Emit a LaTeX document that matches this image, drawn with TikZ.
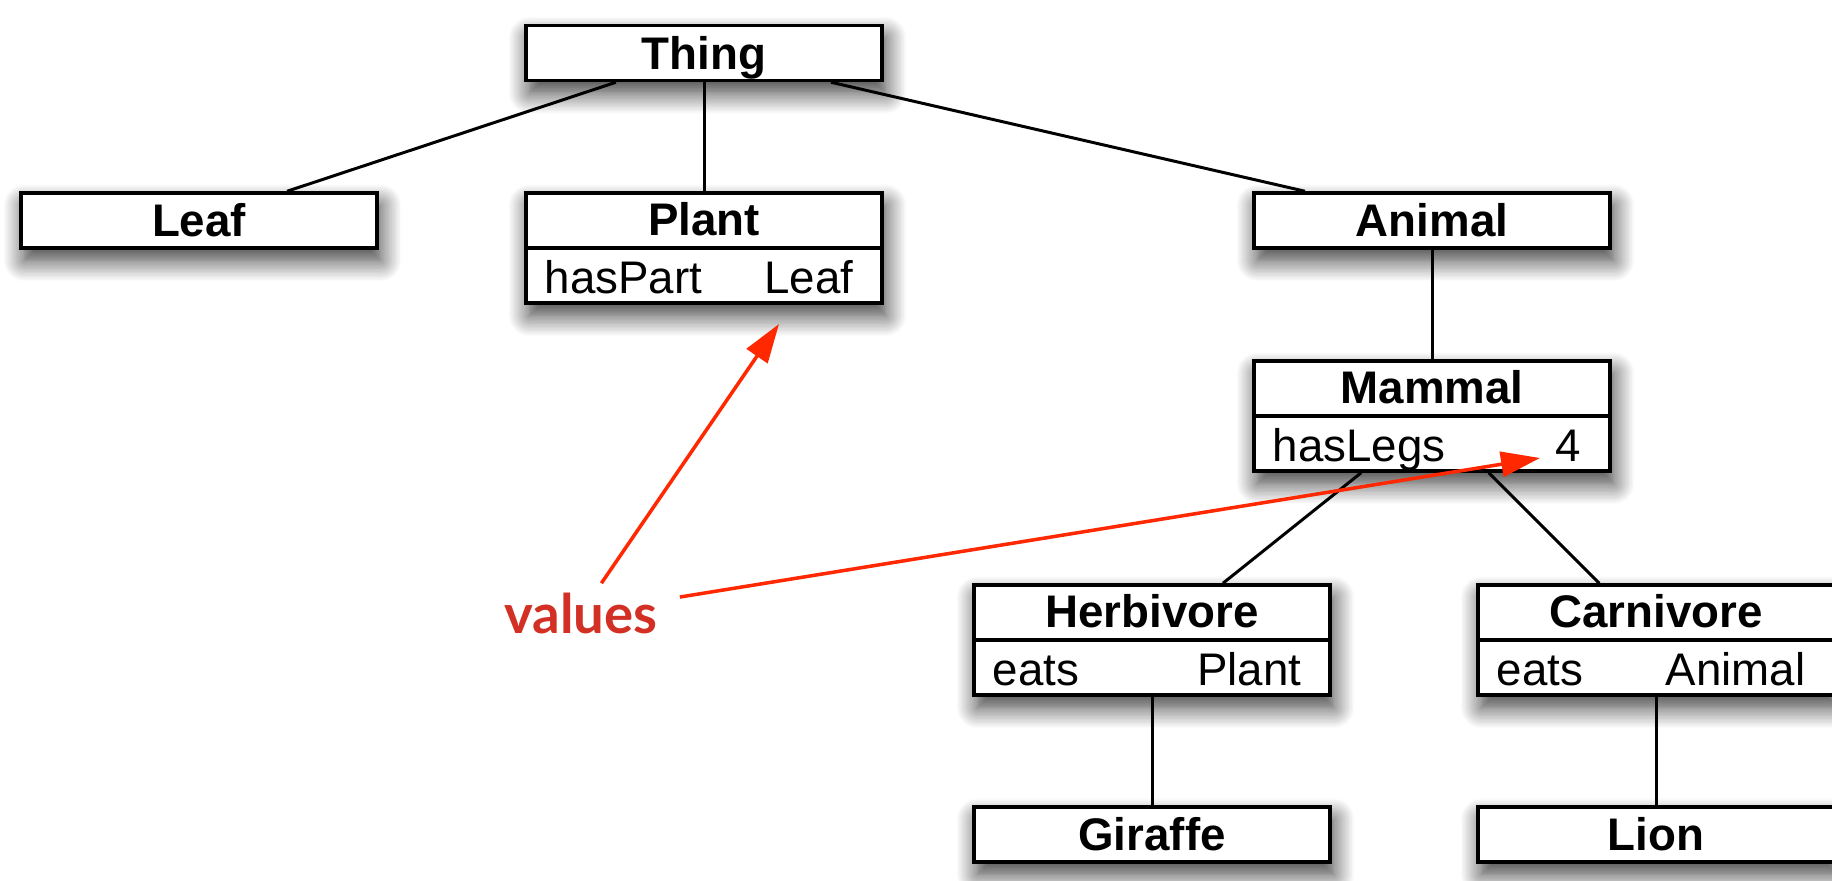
\documentclass[tikz,border=0pt]{standalone}
\usepackage{fontspec}
\setmainfont{Liberation Sans}
\newfontfamily\valfont{Lato}
\usetikzlibrary{shadows.blur,arrows.meta,calc}
\definecolor{arrowred}{RGB}{255,40,0}
\definecolor{valred}{RGB}{210,48,36}
\begin{document}
\begin{tikzpicture}[x=0.02cm,y=-0.02cm,
  box/.style={draw=black, line width=2pt, fill=white, minimum width=7.12cm, minimum height=1.1cm, inner sep=0pt,
    blur shadow={shadow xshift=2pt, shadow yshift=-7pt, shadow blur radius=12pt, shadow opacity=80, shadow blur steps=16}},
  dbox/.style={box, minimum height=2.2cm},
  ttl/.style={font=\fontsize{26pt}{30pt}\selectfont\bfseries, text height=18.7pt, text depth=0pt, inner sep=0pt},
  attr/.style={font=\fontsize{26pt}{30pt}\selectfont, text height=18.7pt, text depth=0pt, inner sep=0pt},
  link/.style={line width=1.7pt},
  divider/.style={line width=2pt},
  valtext/.style={font=\valfont\bfseries\fontsize{31pt}{36pt}\selectfont, text=valred, inner xsep=0.44cm, inner ysep=0.18cm},
  valarrow/.style={draw=arrowred, line width=2pt, -{Triangle[length=0.78cm,width=0.5cm]}}
]
\useasboundingbox (0,0) rectangle (1832,881);

% single boxes
\node[box, ttl] (thing) at (704,53) {Thing};
\node[box, ttl] (leaf) at (199,220.5) {Leaf};
\node[box, ttl] (animal) at (1432,220.5) {Animal};
\node[box, ttl] (giraffe) at (1152,834.5) {Giraffe};
\node[box, ttl] (lion) at (1656,834.5) {Lion};

% double boxes
\node[dbox] (plant) at (704,248) {};
\node[dbox] (mammal) at (1432,416) {};
\node[dbox] (herbivore) at (1152,640) {};
\node[dbox] (carnivore) at (1656,640) {};

\foreach \n in {plant,mammal,herbivore,carnivore}{
  \draw[divider] (\n.west) -- (\n.east);
}

\node[ttl] (plantT) at ($(plant.north)+(0,27.5)$) {Plant};
\node[attr, anchor=west] (plantA) at ($(plant.south west)+(20,-27.5)$) {hasPart};
\node[attr, anchor=east] (plantV) at ($(plant.south east)+(-30,-27.5)$) {Leaf};

\node[ttl] (mammalT) at ($(mammal.north)+(0,27.5)$) {Mammal};
\node[attr, anchor=west] (mammalA) at ($(mammal.south west)+(20,-27.5)$) {hasLegs};
\node[attr, anchor=east] (mammalV) at ($(mammal.south east)+(-30,-27.5)$) {4};

\node[ttl] (herbivoreT) at ($(herbivore.north)+(0,27.5)$) {Herbivore};
\node[attr, anchor=west] (herbivoreA) at ($(herbivore.south west)+(20,-27.5)$) {eats};
\node[attr, anchor=east] (herbivoreV) at ($(herbivore.south east)+(-30,-27.5)$) {Plant};

\node[ttl] (carnivoreT) at ($(carnivore.north)+(0,27.5)$) {Carnivore};
\node[attr, anchor=west] (carnivoreA) at ($(carnivore.south west)+(20,-27.5)$) {eats};
\node[attr, anchor=east] (carnivoreV) at ($(carnivore.south east)+(-30,-27.5)$) {Animal};

% links
\draw[link] (thing) -- (leaf);
\draw[link] (thing) -- (plant);
\draw[link] (thing) -- (animal);
\draw[link] (animal) -- (mammal);
\draw[link] (mammal) -- (herbivore);
\draw[link] (mammal) -- (carnivore);
\draw[link] (herbivore) -- (giraffe);
\draw[link] (carnivore) -- (lion);

% values annotation
\node[valtext] (values) at (581,613) {values};
\coordinate (leafval) at (779,324);
\coordinate (legsval) at (1540,458);
\draw[valarrow] (values) -- (leafval);
\draw[valarrow] (values) -- (legsval);
\end{tikzpicture}
\end{document}
